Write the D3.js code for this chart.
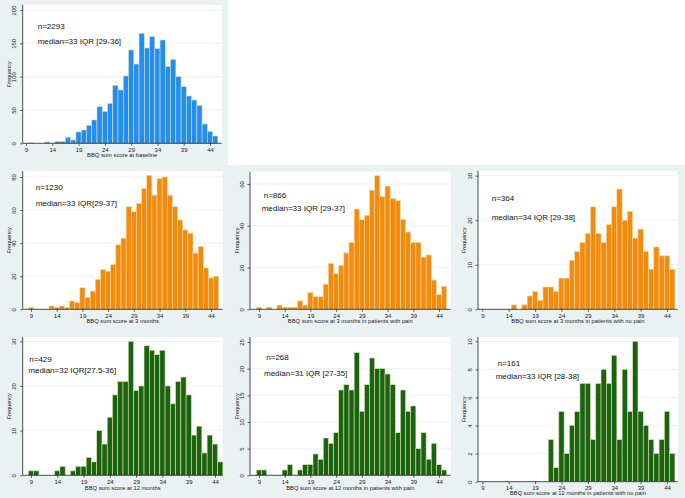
<!DOCTYPE html>
<html>
<head>
<meta charset="utf-8">
<script src="https://cdn.jsdelivr.net/npm/d3@7"></script>
<style>
  html, body { margin: 0; padding: 0; background: #ffffff; }
  svg { display: block; font-family: "Liberation Sans", Arial, sans-serif; }
</style>
</head>
<body>
<svg id="chart" width="685" height="498"></svg>
<script>
// ---- Data ----
const scores = [9,10,11,12,13,14,15,16,17,18,19,20,21,22,23,24,25,26,27,28,29,30,31,32,33,34,35,36,37,38,39,40,41,42,43,44,45];
const xTickLabels = [9,14,19,24,29,34,39,44];

const baseline      = [0,1,0,0,2,0,3,3,9,5,17,20,27,35,55,48,60,87,80,101,140,119,165,143,160,142,155,115,126,100,85,71,65,57,29,18,11];
const m3All         = [1,0,0,0,2,1,2,1,5,4,13,7,11,18,24,23,27,39,43,62,59,64,73,81,69,79,80,69,62,54,48,46,34,38,25,19,20];
const m3Pain        = [1,0,1,0,2,1,1,1,4,2,8,6,6,12,22,17,21,27,32,48,43,45,57,64,54,59,53,52,43,37,32,32,25,26,14,7,11];
const m3NoPain      = [0,0,0,0,0,0,1,0,1,3,4,2,5,5,4,7,7,11,13,15,17,23,17,15,19,23,27,20,22,16,18,13,9,14,12,12,9];
const m12All        = [1,1,0,0,0,1,2,0,1,2,2,4,3,10,7,13,18,21,21,30,19,20,29,28,27,28,20,16,21,22,18,9,11,5,9,7,3];
const m12Pain       = [1,1,0,0,0,1,2,0,1,2,2,4,3,7,6,8,16,17,16,23,12,17,22,20,20,19,17,8,16,12,13,5,8,3,6,2,1];
const m12NoPain     = [0,0,0,0,0,0,0,0,0,0,0,0,0,3,1,5,2,4,5,7,7,3,7,8,7,9,3,8,5,10,5,4,3,2,3,5,2];

const titles = [
  "BBQ sum score at baseline",
  "BBQ sum score at 3 months",
  "BBQ sum score at 3 months in patients with pain",
  "BBQ sum score at 3 months in patients with no pain",
  "BBQ sum score at 12 months",
  "BBQ sum score at 12 months in patients with pain",
  "BBQ sum score at 12 months in patients with no pain"
];
const nLabels = ["n=2293","n=1230","n=866","n=364","n=429","n=268","n=161"];
const medianLabels = [
  "median=33 IQR [29-36]",
  "median=33 IQR[29-37]",
  "median=33 IQR [29-37]",
  "median=34 IQR [29-38]",
  "median=32 IQR[27.5-36]",
  "median=31 IQR [27-35]",
  "median=33 IQR [28-38]"
];
const yTicksList = [
  [0,50,100,150,200],
  [0,20,40,60,80],
  [0,20,40,60],
  [0,10,20,30],
  [0,10,20,30],
  [0,5,10,15,20,25],
  [0,2,4,6,8,10]
];
const seriesList = [baseline, m3All, m3Pain, m3NoPain, m12All, m12Pain, m12NoPain];

// ---- Layout (pixels) ----
const BLUE = "#1f8ef5", ORANGE = "#f58a0c", GREEN = "#196410";
const panels = [
  {ox:0,   oy:0,   L:22.7, R:221.7, T:5,   B:143.3, x9:26,   x44:210, yTopPx:10,   color:BLUE,   nx:37.7, ny:28.5, mx:37.7, my:43.5, tickY:152.3, titleY:157.3},
  {ox:0,   oy:165, L:22.7, R:222.7, T:6,   B:144.3, x9:31,   x44:211, yTopPx:12,   color:ORANGE, nx:35.7, ny:24.5, mx:35.7, my:40.5, tickY:153,   titleY:158.3},
  {ox:228, oy:165, L:22,   R:222.7, T:6.7, B:144.3, x9:31,   x44:211, yTopPx:19,   color:ORANGE, nx:35.7, ny:33,   mx:33.7, my:46,   tickY:153,   titleY:158.3},
  {ox:455, oy:165, L:23,   R:222.7, T:6,   B:144.3, x9:27.3, x44:212, yTopPx:10.7, color:ORANGE, nx:36.7, ny:36,   mx:36.7, my:55,   tickY:153,   titleY:158.3},
  {ox:0,   oy:330, L:22.7, R:222.7, T:7,   B:145.3, x9:31,   x44:215, yTopPx:11.3, color:GREEN,  nx:29.3, ny:32,   mx:28.3, my:43,   tickY:153.5, titleY:159.5},
  {ox:228, oy:330, L:22,   R:222.7, T:7,   B:145.3, x9:31,   x44:211, yTopPx:12,   color:GREEN,  nx:38.3, ny:30,   mx:36,   my:45.5, tickY:153.5, titleY:159.5},
  {ox:455, oy:330, L:23,   R:222.7, T:7,   B:151.7, x9:27.3, x44:212, yTopPx:11.3, color:GREEN,  nx:42.7, ny:36,   mx:40.7, my:48.5, tickY:159.5, titleY:165.3}
];

const svg = d3.select("#chart");
// background
svg.append("rect").attr("x",0).attr("y",0).attr("width",685).attr("height",498).attr("fill","#eaf1f3");
svg.append("rect").attr("x",228).attr("y",0).attr("width",457).attr("height",165).attr("fill","#ffffff");

panels.forEach((p, i) => {
  const g = svg.append("g").attr("transform", `translate(${p.ox},${p.oy})`);
  const data = seriesList[i];
  const yTicks = yTicksList[i];
  const yMax = yTicks[yTicks.length - 1];
  const x = d3.scaleLinear().domain([9,44]).range([p.x9, p.x44]);
  const y = d3.scaleLinear().domain([0,yMax]).range([p.B, p.yTopPx]);

  // plot region
  g.append("rect").attr("x",p.L).attr("y",p.T).attr("width",p.R-p.L).attr("height",p.B-p.T).attr("fill","#ffffff");

  // gridlines
  g.append("g").selectAll("line").data(yTicks.filter(t => t > 0)).join("line")
    .attr("x1",p.L).attr("x2",p.R).attr("y1",d=>y(d)).attr("y2",d=>y(d))
    .attr("stroke","#e6eef1").attr("stroke-width",0.8);

  // bars
  const bars = scores.map((s,k)=>({s, v:data[k]})).filter(d=>d.v>0);
  g.append("g").selectAll("rect").data(bars).join("rect")
    .attr("x", d => x(d.s-0.5))
    .attr("width", d => x(d.s+0.5) - x(d.s-0.5))
    .attr("y", d => y(d.v))
    .attr("height", d => p.B - y(d.v))
    .attr("fill", p.color)
    .attr("stroke", "#e3dcaa")
    .attr("stroke-width", 0.6);

  // y axis
  const yAxis = d3.axisLeft(y).tickValues(yTicks).tickSize(2.5).tickPadding(2).tickFormat(d3.format("d"));
  const ya = g.append("g").attr("transform",`translate(${p.L},0)`).call(yAxis);
  ya.select(".domain").attr("d", `M0,${p.T}V${p.B}`).attr("stroke","#222").attr("stroke-width",0.8);
  ya.selectAll(".tick line").attr("stroke","#222").attr("stroke-width",0.7);
  ya.selectAll(".tick text")
    .attr("font-size", 6).attr("fill","#222")
    .attr("text-anchor","middle")
    .attr("x", null).attr("dy", null)
    .attr("transform", "translate(-6.5,0) rotate(-90)");

  // x axis
  const xAxis = d3.axisBottom(x).tickValues(xTickLabels).tickSize(2.5).tickPadding(2).tickFormat(d3.format("d"));
  const xa = g.append("g").attr("transform",`translate(0,${p.B})`).call(xAxis);
  xa.select(".domain").attr("d", `M${p.L},0H${p.R}`).attr("stroke","#222").attr("stroke-width",0.8);
  xa.selectAll(".tick line").attr("stroke","#222").attr("stroke-width",0.7);
  xa.selectAll(".tick text").attr("font-size",6).attr("fill","#222").attr("y", null).attr("dy", null)
    .attr("transform", `translate(0,${p.tickY - p.B})`);

  // axis titles
  g.append("text").attr("x", (p.L+p.R)/2).attr("y", p.titleY)
    .attr("text-anchor","middle").attr("font-size",5.8).attr("fill","#222").text(titles[i]);
  g.append("text").attr("transform", `translate(10.5,${(p.T+p.B)/2}) rotate(-90)`)
    .attr("text-anchor","middle").attr("font-size",5.5).attr("fill","#222").text("Frequency");

  // annotations
  g.append("text").attr("x",p.nx).attr("y",p.ny).attr("font-size",8).attr("fill","#111").text(nLabels[i]);
  g.append("text").attr("x",p.mx).attr("y",p.my).attr("font-size",8).attr("fill","#111").text(medianLabels[i]);
});
</script>
</body>
</html>
